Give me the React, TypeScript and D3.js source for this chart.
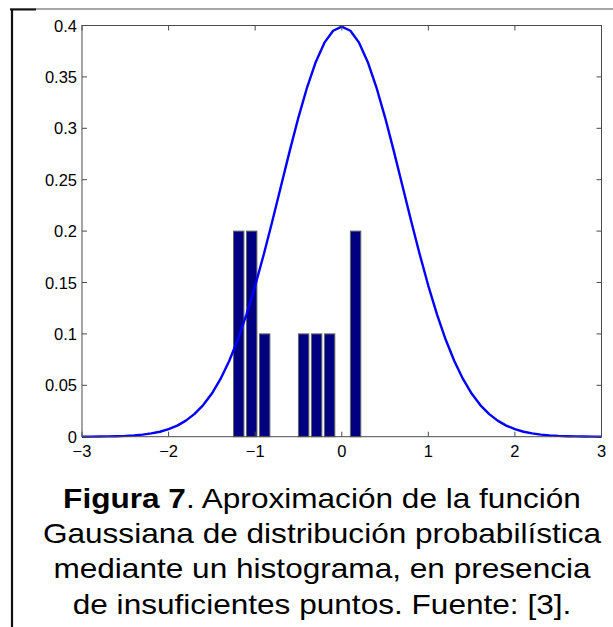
import React from "react";
import * as d3 from "d3";

const W = 613;
const H = 627;

// Histogram bars (bin centers and normalized heights)
const binCenters = [-1.19, -1.04, -0.89, -0.44, -0.29, -0.14, 0.16];
const binHeights = [0.2, 0.2, 0.1, 0.1, 0.1, 0.1, 0.2];
const binWidth = 0.15;

// Curve samples
const curveX = [
  -3.0, -2.9, -2.8, -2.7, -2.6, -2.5, -2.4, -2.3, -2.2, -2.1, -2.0, -1.9, -1.8, -1.7, -1.6, -1.5,
  -1.4, -1.3, -1.2, -1.1, -1.0, -0.9, -0.8, -0.7, -0.6, -0.5, -0.4, -0.3, -0.2, -0.1, 0.0, 0.1,
  0.2, 0.3, 0.4, 0.5, 0.6, 0.7, 0.8, 0.9, 1.0, 1.1, 1.2, 1.3, 1.4, 1.5, 1.6, 1.7, 1.8, 1.9, 2.0,
  2.1, 2.2, 2.3, 2.4, 2.5, 2.6, 2.7, 2.8, 2.9, 3.0,
];
const curveY = [
  0.0, 0.0001, 0.0002, 0.0003, 0.0005, 0.0008, 0.0013, 0.002, 0.0032, 0.0048, 0.0073, 0.0108,
  0.0156, 0.0222, 0.0308, 0.042, 0.0562, 0.0736, 0.0945, 0.119, 0.1468, 0.1775, 0.2103, 0.2444,
  0.2783, 0.3107, 0.3399, 0.3646, 0.3833, 0.3949, 0.3989, 0.3949, 0.3833, 0.3646, 0.3399, 0.3107,
  0.2783, 0.2444, 0.2103, 0.1775, 0.1468, 0.119, 0.0945, 0.0736, 0.0562, 0.042, 0.0308, 0.0222,
  0.0156, 0.0108, 0.0073, 0.0048, 0.0032, 0.002, 0.0013, 0.0008, 0.0005, 0.0003, 0.0002, 0.0001,
  0.0,
];

const xTicks = [-3, -2, -1, 0, 1, 2, 3];
const yTicks = [0, 0.05, 0.1, 0.15, 0.2, 0.25, 0.3, 0.35, 0.4];

const captionLines = [
  "Gaussiana de distribución probabilística",
  "mediante un histograma, en presencia",
  "de insuficientes puntos. Fuente: [3].",
];

const FONT = "Liberation Sans, Arial, sans-serif";

export default function App() {
  const left = 82;
  const right = 601.5;
  const top = 25.5;
  const bottom = 436.7;
  const x = d3.scaleLinear().domain([-3, 3]).range([left, right]);
  const y = d3.scaleLinear().domain([0, 0.4]).range([bottom, top]);
  const line = d3
    .line<number>()
    .x((_, i) => x(curveX[i]))
    .y((d) => y(d))
    .curve(d3.curveLinear);
  const barW = x(binWidth * 0.8) - x(0);
  const tickLen = 5;
  const axisColor = "#4a4a4a";
  const fmtY = (v: number) => String(+v.toFixed(2));
  const fmtX = (v: number) => (v < 0 ? "\u2212" + Math.abs(v) : String(v));

  const capX = 322;
  const capSX = 1.17;
  const capFont = 27;
  const baselines = [507.5, 542.5, 578, 614];

  return (
    <div style={{ position: "absolute", left: 0, top: 0 }}>
      <svg width={W} height={H} style={{ display: "block", background: "#fff" }}>
        {/* frame */}
        <line x1={10} y1={9} x2={613} y2={9} stroke="#8a8a8a" strokeWidth={1.5} />
        <line x1={10} y1={9.5} x2={36} y2={9.5} stroke="#111" strokeWidth={2} />
        <line x1={12} y1={9} x2={12} y2={627} stroke="#111" strokeWidth={2.2} />

        {/* bars */}
        {binCenters.map((c, i) => (
          <rect
            key={i}
            x={x(c) - barW / 2}
            y={y(binHeights[i])}
            width={barW}
            height={y(0) - y(binHeights[i])}
            fill="#000080"
            stroke="#666"
            strokeWidth={1}
          />
        ))}

        {/* curve */}
        <path d={line(curveY) || ""} fill="none" stroke="#0000ff" strokeWidth={2.4} strokeLinejoin="round" />

        {/* axes box */}
        <rect x={left} y={top} width={right - left} height={bottom - top} fill="none" stroke={axisColor} strokeWidth={1} />

        {/* x ticks */}
        {xTicks.map((t) => (
          <g key={"x" + t}>
            <line x1={x(t)} x2={x(t)} y1={bottom} y2={bottom - tickLen} stroke={axisColor} />
            <line x1={x(t)} x2={x(t)} y1={top} y2={top + tickLen} stroke={axisColor} />
            <text
              x={x(t)}
              y={bottom + 20}
              textAnchor="middle"
              fontFamily={FONT}
              fontSize={16.5}
              fill="#000"
            >
              {fmtX(t)}
            </text>
          </g>
        ))}

        {/* y ticks */}
        {yTicks.map((t) => (
          <g key={"y" + t}>
            <line x1={left} x2={left + tickLen} y1={y(t)} y2={y(t)} stroke={axisColor} />
            <line x1={right} x2={right - tickLen} y1={y(t)} y2={y(t)} stroke={axisColor} />
            <text
              x={left - 5}
              y={y(t) + 6}
              textAnchor="end"
              fontFamily={FONT}
              fontSize={16.5}
              fill="#000"
            >
              {fmtY(t)}
            </text>
          </g>
        ))}

        {/* caption */}
        <g transform={`translate(${capX},${baselines[0]}) scale(${capSX},1)`}>
          <text x={0} y={0} textAnchor="middle" fontFamily={FONT} fontSize={capFont} fill="#000">
            <tspan fontWeight="bold">Figura 7</tspan>. Aproximación de la función
          </text>
        </g>
        {captionLines.map((l, i) => (
          <g key={i} transform={`translate(${capX},${baselines[i + 1]}) scale(${capSX},1)`}>
            <text x={0} y={0} textAnchor="middle" fontFamily={FONT} fontSize={capFont} fill="#000">
              {l}
            </text>
          </g>
        ))}
      </svg>
    </div>
  );
}
